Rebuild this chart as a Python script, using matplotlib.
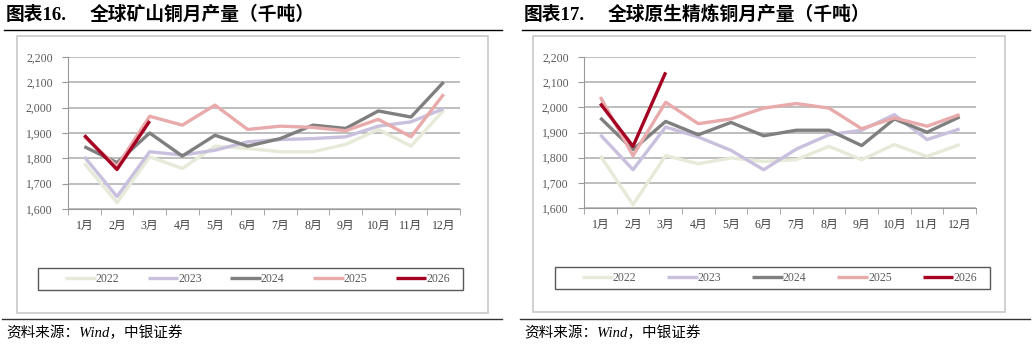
import numpy as np
import matplotlib
matplotlib.use('Agg')
import matplotlib.pyplot as plt
from matplotlib.lines import Line2D
from matplotlib.patches import Rectangle

plt.rcParams['font.family'] = ['Liberation Serif', 'Noto Sans CJK SC']

W, H = 1033, 346

months = ['1月', '2月', '3月', '4月', '5月', '6月', '7月', '8月', '9月', '10月', '11月', '12月']
years = ['2022', '2023', '2024', '2025', '2026']
colors = ['#E6EAD8', '#C9C0DE', '#7F7F7F', '#E8AAAA', '#A50021']

# 全球矿山铜月产量（千吨）
mine_2022 = [1780, 1625, 1806, 1760, 1848, 1839, 1826, 1826, 1855, 1914, 1848, 1990]
mine_2023 = [1806, 1649, 1826, 1813, 1832, 1865, 1874, 1878, 1885, 1927, 1944, 1996]
mine_2024 = [1846, 1783, 1900, 1809, 1891, 1848, 1878, 1931, 1918, 1987, 1963, 2101]
mine_2025 = [1885, 1768, 1966, 1931, 2010, 1914, 1927, 1922, 1909, 1954, 1885, 2053]
mine_2026 = [1891, 1756, 1947]

# 全球原生精炼铜月产量（千吨）
ref_2022 = [1808, 1613, 1808, 1776, 1799, 1785, 1792, 1845, 1792, 1852, 1805, 1852]
ref_2023 = [1891, 1752, 1922, 1882, 1829, 1752, 1834, 1891, 1909, 1971, 1872, 1914]
ref_2024 = [1958, 1832, 1944, 1891, 1940, 1887, 1909, 1909, 1848, 1954, 1901, 1962]
ref_2025 = [2041, 1808, 2020, 1935, 1954, 1997, 2015, 1997, 1915, 1958, 1925, 1971]
ref_2026 = [2015, 1845, 2139]

fig = plt.figure(figsize=(W / 100, H / 100), dpi=100)


def fx(px):
    return px / W


def fy(py):
    return 1 - py / H


def rect(x0, y0, x1, y1):
    return [fx(x0), fy(y1), fx(x1) - fx(x0), fy(y0) - fy(y1)]


def panel(x0, x1, label, title, series, box, ax_box, leg_box, leg_inner):
    # heading
    fig.text(fx(x0 + 2), fy(15), label, fontsize=13.5, fontweight='bold',
             va='center', ha='left')
    fig.text(fx(x0 + 86), fy(15), title, fontsize=13.5, fontweight='bold',
             va='center', ha='left')
    fig.add_artist(Line2D([fx(x0), fx(x1)], [fy(30), fy(30)], color='black', lw=1.0))
    # outer gray frame
    bx0, by0, bx1, by1 = box
    fig.add_artist(Rectangle((fx(bx0), fy(by1)), fx(bx1) - fx(bx0), fy(by0) - fy(by1),
                             fill=False, edgecolor='#C8C8C8', lw=1.2))
    # source
    fig.add_artist(Line2D([fx(x0 - 2), fx(x1)], [fy(319), fy(319)], color='#333333', lw=1.0))
    fig.text(fx(x0 + 2), fy(333), '资料来源：Wind，中银证券', fontsize=10.5,
             style='italic', va='center', ha='left')

    ax = fig.add_axes(rect(*ax_box))
    x = np.arange(1, 13)
    handles = []
    for vals, c, yr in zip(series, colors, years):
        h, = ax.plot(x[:len(vals)], vals, color=c, lw=2.4, solid_capstyle='butt', label=yr)
        handles.append(h)
    ax.set_xlim(0.5, 12.5)
    ax.set_ylim(1600, 2200)
    ax.set_yticks(np.arange(1600, 2201, 100))
    ax.set_yticklabels([f'{v:,}' for v in range(1600, 2201, 100)])
    ax.yaxis.grid(True, color='#BEBEBE', lw=1.4)
    ax.set_axisbelow(True)
    ax.set_xticks(x)
    ax.set_xticklabels(months)
    ax.set_xticks(np.arange(0.5, 12.6, 1), minor=True)
    ax.tick_params(axis='x', which='major', length=0, pad=8, labelsize=8.5, colors='#404040')
    ax.tick_params(axis='x', which='minor', length=4, color='#999999', direction='out')
    ax.tick_params(axis='y', length=4, pad=7, color='#999999', labelsize=8.5, labelcolor='#595959')
    for s in ['top', 'right']:
        ax.spines[s].set_visible(False)
    ax.spines['left'].set_color('#999999')
    ax.spines['bottom'].set_color('#999999')

    # legend frame and entries
    lx0, ly0, lx1, ly1 = leg_box
    fig.add_artist(Rectangle((fx(lx0), fy(ly1)), fx(lx1) - fx(lx0), fy(ly0) - fy(ly1),
                             fill=False, edgecolor='#595959', lw=1.0))
    ix0, ix1 = leg_inner
    leg = fig.legend(handles, years, loc='center', ncol=5, mode='expand',
                     bbox_to_anchor=rect(ix0, ly0, ix1, ly1), fontsize=8.5,
                     frameon=False, handlelength=2.6,
                     handletextpad=0.0, borderaxespad=0, borderpad=0.0)
    for t in leg.get_texts():
        t.set_color('#595959')


panel(4, 502, '图表16.', '全球矿山铜月产量（千吨）',
      [mine_2022, mine_2023, mine_2024, mine_2025, mine_2026],
      (17, 36, 488, 313), (68, 57, 460, 209), (38, 268, 463, 290), (65, 450))
panel(522, 1030, '图表17.', '全球原生精炼铜月产量（千吨）',
      [ref_2022, ref_2023, ref_2024, ref_2025, ref_2026],
      (533, 36, 1005, 312), (584, 57, 976, 208), (555, 267, 990, 289), (582, 977))

fig.savefig('out.png', dpi=100)
